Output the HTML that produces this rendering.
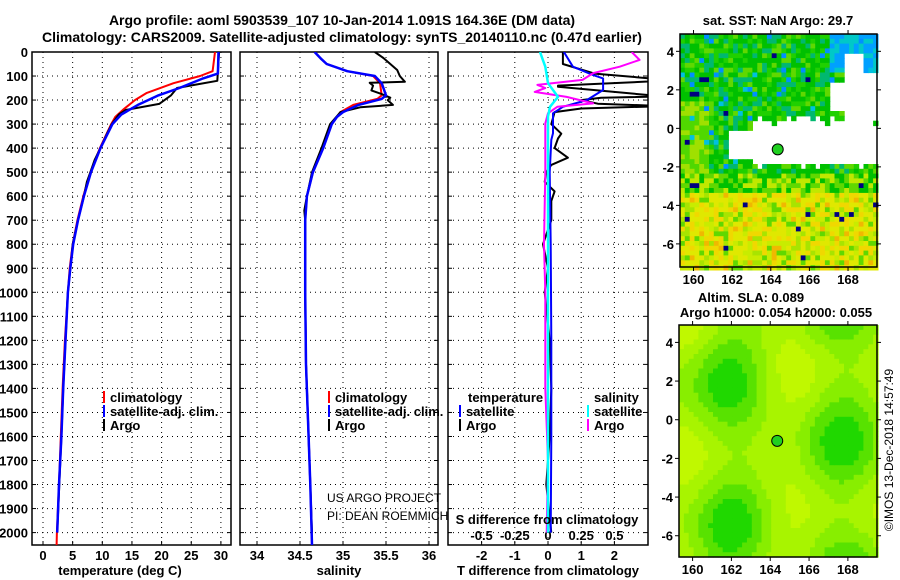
<!DOCTYPE html>
<html><head><meta charset="utf-8"><style>
body{margin:0;background:#fff;}
svg{display:block;font-family:"Liberation Sans",sans-serif;}
.b{font-weight:bold;font-size:13px;}
</style></head><body>
<svg id="s" width="900" height="580" viewBox="0 0 900 580">
<defs>
<clipPath id="c1"><rect x="32" y="52" width="199" height="493"/></clipPath>
<clipPath id="c2"><rect x="240" y="52" width="198" height="493"/></clipPath>
<clipPath id="c3"><rect x="448" y="52" width="200" height="493"/></clipPath>
</defs>
<g class="b">
<text x="342" y="25" text-anchor="middle" font-size="14">Argo profile: aoml 5903539_107 10-Jan-2014 1.091S 164.36E (DM data)</text>
<text x="342" y="42" text-anchor="middle" font-size="14">Climatology: CARS2009. Satellite-adjusted climatology: synTS_20140110.nc (0.47d earlier)</text>
</g>
<g id="root"></g>
<text x="120" y="575" class="b" text-anchor="middle">temperature (deg C)</text>
<text x="339" y="575" class="b" text-anchor="middle">salinity</text>
<text x="548" y="575" class="b" text-anchor="middle">T difference from climatology</text>
<text x="547" y="524" class="b" text-anchor="middle">S difference from climatology</text>
<text x="327" y="502" font-size="12">US ARGO PROJECT</text>
<text x="327" y="520" font-size="12">PI: DEAN ROEMMICH</text>
<text x="778" y="25" class="b" font-size="12" text-anchor="middle">sat. SST: NaN Argo: 29.7</text>
<text x="751" y="302" class="b" font-size="12" text-anchor="middle">Altim. SLA: 0.089</text>
<text x="776" y="317" class="b" font-size="12" text-anchor="middle">Argo h1000: 0.054 h2000: 0.055</text>
<text transform="translate(893,450) rotate(-90)" font-size="12" text-anchor="middle">©IMOS 13-Dec-2018 14:57:49</text>
</svg>
<script>
// ---- data ----
const depthTicks=[0,100,200,300,400,500,600,700,800,900,1000,1100,1200,1300,1400,1500,1600,1700,1800,1900,2000];
const tempTicks=[0,5,10,15,20,25,30];
const salTicks=[34,34.5,35,35.5,36];
const salTickLabels=["34","34.5","35","35.5","36"];
const tdiffTicks=[-2,-1,0,1,2];
const sdiffTicks=[-0.5,-0.25,0,0.25,0.5];
const sdiffTickLabels=["-0.5","-0.25","0","0.25","0.5"];
const climDepth=[0,80,100,130,170,200,240,270,300,400,500,600,700,800,900,1000,1200,1400,1600,1800,2000,2052];
const climTemp=[29.0,28.6,26.5,22,17.5,15.5,13.5,12.2,11.5,9.6,8,6.8,5.8,5.0,4.5,4.2,3.7,3.3,3.0,2.7,2.35,2.3];
const satDepth=[0,90,110,150,180,220,260,300,400,500,600,700,800,900,1000,1200,1400,1600,1800,2000];
const satTemp=[29.6,29.5,27,23,19.5,16,13.2,11.7,9.7,8.1,6.9,5.9,5.1,4.6,4.2,3.8,3.4,3.1,2.7,2.4];
const argoDepth=[0,120,135,150,180,216,241,260,300,340,400,450,500,540,600,700,800,900,1000,1200,1400,1600,1800,2000];
const argoTemp=[29.7,29.4,26,22.6,21.6,19.6,14,12.8,11.6,10.8,9.7,8.7,8.0,7.4,6.9,5.9,5.0,4.6,4.2,3.8,3.4,3.1,2.75,2.4];
const climSal=[34.67,34.75,34.81,35.05,35.35,35.43,35.45,35.4,35.12,34.97,34.93,34.87,34.77,34.65,34.58,34.56,34.56,34.57,34.6,34.62,34.64];
const climSalDepth=[0,30,50,80,100,130,180,195,220,250,270,300,400,500,600,700,1000,1300,1600,1800,2052];
const satSal=[34.67,34.75,34.81,35.05,35.37,35.45,35.5,35.45,35.18,35.0,34.93,34.87,34.77,34.65,34.58,34.56,34.56,34.57,34.6,34.62,34.64];
const argoSalDepth=[0,25,75,100,124,128,140,160,175,190,200,220,230,250,300,400,500,600,660,700,1000,1300,1600,2000];
const argoSal=[35.37,35.47,35.63,35.66,35.72,35.31,35.35,35.33,35.45,35.55,35.52,35.58,35.2,34.97,34.85,34.75,34.64,34.58,34.55,34.56,34.56,34.57,34.6,34.64];
const tdDepth=[0,50,90,115,120,140,145,185,190,200,215,225,235,250,300,340,360,400,440,470,500,540,580,620,700,800,900,1000,1200,1400,1600,1800,2000];
const tdArgo=[0.45,0.45,1.4,3.5,3.5,0.3,0.3,3.5,1.6,1.0,1.5,3.5,1.0,0.2,0.1,0.4,0.3,0.2,0.6,0.1,-0.05,-0.1,0.2,0.1,0.1,-0.15,0.0,-0.1,0.05,0.1,0.05,-0.05,0.1];
const tdSatDepth=[0,61,96,110,158,200,228,255,338,366,500,800,1200,1600,2000];
const tdSat=[0.48,0.75,1.36,1.66,1.66,1.17,0.45,0.15,0.15,0.1,0.05,0.08,0.1,0.1,0.08];
const sdDepth=[0,33,61,88,116,137,150,166,187,214,228,255,297,500,800,1000,1400,1700,2000];
const sdArgo=[0.63,0.69,0.54,0.34,0.26,-0.08,-0.02,-0.1,0.14,0.34,0.07,0.0,-0.02,-0.02,-0.03,-0.02,-0.02,0.0,-0.01];
const sdSatDepth=[0,61,130,187,228,269,600,1000,1500,2000];
const sdSat=[-0.06,-0.02,0,0.075,0.015,0,0,0,0,0];
const argoLon=164.36, argoLat=-1.091;
const lonTicks=[160,162,164,166,168];
const latTicks=[4,2,0,-2,-4,-6];

// ---- scales ----
const NS="http://www.w3.org/2000/svg";
const root=document.getElementById('root');
const yD=d=>52+d*0.2403;
const xT=t=>43+t*5.93;
const xS=s=>257+(s-34)*86;
const xTD=t=>548+t*33.2;
const xSD=s=>548+s*132.8;
function mk(tag,attrs,parent){const e=document.createElementNS(NS,tag);for(const k in attrs)e.setAttribute(k,attrs[k]);(parent||root).appendChild(e);return e;}
function txt(x,y,s,anchor,parent,cls){const e=mk('text',{x:x,y:y,'text-anchor':anchor||'middle','class':cls||'b'},parent);e.textContent=s;return e;}

function panel(x0,x1,clip,xs,ticks,labels,name){
  const g=mk('g',{});
  
  
  depthTicks.forEach(d=>{const l=mk('line',{x1:x0,x2:x1,y1:yD(d),y2:yD(d),stroke:'#000','stroke-width':1,'stroke-dasharray':'1,4'},g);
    
    mk('line',{x1:x0,x2:x0+4,y1:yD(d),y2:yD(d),stroke:'#000'},g);mk('line',{x1:x1-4,x2:x1,y1:yD(d),y2:yD(d),stroke:'#000'},g);});
  ticks.forEach((t,i)=>{const l=mk('line',{x1:xs(t),x2:xs(t),y1:52,y2:545,stroke:'#000','stroke-width':1,'stroke-dasharray':'1,4'},g);
    
    mk('line',{x1:xs(t),x2:xs(t),y1:545,y2:541,stroke:'#000'},g);
    const tl=txt(xs(t),560,labels[i],'middle',g);});
  const r=mk('rect',{x:x0,y:52,width:x1-x0,height:493,fill:'none',stroke:'#000','stroke-width':1.5},g);
  
  return g;
}
function line(xs,vals,depths,color,w,clip,name){
  const pts=vals.map((v,i)=>xs(v).toFixed(1)+','+yD(depths[i]).toFixed(1)).join(' ');
  const p=mk('polyline',{points:pts,fill:'none',stroke:color,'stroke-width':w,'clip-path':'url(#'+clip+')','stroke-linejoin':'round'});
  
  
}
depthTicks.forEach(d=>{const t=txt(28,yD(d)+5,String(d),'end');});

panel(32,231,'c1',xT,tempTicks,tempTicks.map(String),'temperature-panel');
line(xT,climTemp,climDepth,'#f00',2,'c1','temp-climatology-line');
line(xT,argoTemp,argoDepth,'#000',2,'c1','temp-argo-line');
line(xT,satTemp,satDepth,'#00f',2.5,'c1','temp-satellite-line');

panel(240,438,'c2',xS,salTicks,salTickLabels,'salinity-panel');
line(xS,climSal,climSalDepth,'#f00',2,'c2','sal-climatology-line');
line(xS,argoSal,argoSalDepth,'#000',2,'c2','sal-argo-line');
line(xS,satSal,climSalDepth,'#00f',2.5,'c2','sal-satellite-line');

panel(448,648,'c3',xTD,tdiffTicks,tdiffTicks.map(String),'difference-panel');
sdiffTicks.forEach((s,i)=>{const t=txt(xSD(s),540,sdiffTickLabels[i],'middle');});
line(xTD,tdArgo,tdDepth,'#000',2,'c3','tdiff-argo-line');
line(xTD,tdSat,tdSatDepth,'#00f',2,'c3','tdiff-satellite-line');
line(xSD,sdArgo,sdDepth,'#f0f',2,'c3','sdiff-argo-line');
line(xSD,sdSat,sdSatDepth,'#0ff',2.5,'c3','sdiff-satellite-line');

function leg(x,y,color,label,name){
  const g=mk('g',{});
  if(color)mk('rect',{x:x,y:y-11,width:2,height:12,fill:color},g);
  txt(x+7,y,label,'start',g);
}
leg(103,402,'#f00','climatology','legend-climatology');
leg(103,416,'#00f','satellite-adj. clim.','legend-satellite-adj');
leg(103,430,'#000','Argo','legend-argo');
leg(328,402,'#f00','climatology','legend-sal-climatology');
leg(328,416,'#00f','satellite-adj. clim.','legend-sal-satellite-adj');
leg(328,430,'#000','Argo','legend-sal-argo');
leg(461,402,null,'temperature','legend-temperature-header');
leg(459,416,'#00f','satellite','legend-tdiff-satellite');
leg(459,430,'#000','Argo','legend-tdiff-argo');
leg(587,402,null,'salinity','legend-salinity-header');
leg(587,416,'#0ff','satellite','legend-sdiff-satellite');
leg(587,430,'#f0f','Argo','legend-sdiff-argo');

// ---- maps ----
function hash(i,j,k){let h=(i*374761393+j*668265263+k*982451653)|0;h=(h^(h>>>13))*1274126177|0;return ((h^(h>>>16))>>>0)/4294967296;}
function map(x0,y0,w,h,lonMin,lonMax,latMax,latMin,colorFn,name,labelY){
  const g=mk('g',{});
  const lx=lon=>x0+(lon-lonMin)/(lonMax-lonMin)*w;
  const ly=lat=>y0+(latMax-lat)/(latMax-latMin)*h;
  const step=0.25;
  for(let lon=lonMin;lon<lonMax;lon+=step){for(let lat=latMax;lat>latMin;lat-=step){
    const c=colorFn(lon,lat);if(!c)continue;
    mk('rect',{x:lx(lon).toFixed(1),y:ly(lat).toFixed(1),width:(step/(lonMax-lonMin)*w+0.6).toFixed(1),height:(step/(latMax-latMin)*h+0.6).toFixed(1),fill:c},g);}}
  mk('rect',{x:x0,y:y0,width:w,height:h,fill:'none',stroke:'#000','stroke-width':1.5},g);
  lonTicks.forEach(l=>{mk('line',{x1:lx(l),x2:lx(l),y1:y0,y2:y0-4,stroke:'#000'},g);mk('line',{x1:lx(l),x2:lx(l),y1:y0+h,y2:y0+h+4,stroke:'#000'},g);
    const t=txt(lx(l),labelY,String(l),'middle',g);});
  latTicks.forEach(l=>{mk('line',{x1:x0,x2:x0-4,y1:ly(l),y2:ly(l),stroke:'#000'},g);mk('line',{x1:x0+w,x2:x0+w+4,y1:ly(l),y2:ly(l),stroke:'#000'},g);
    const t=txt(x0-6,ly(l)+5,String(l),'end',g);});
  const c=mk('circle',{cx:lx(argoLon),cy:ly(argoLat),r:5.5,fill:'#20d020',stroke:'#000','stroke-width':1},g);
  
}
function sst(lon,lat){
  const i=Math.round(lon*4),j=Math.round(lat*4);const r=hash(i,j,1);
  const edge=hash(i,0,7)*0.6;
  if(lat<0.9-edge&&lat>-1.9+edge*0.5&&lon>162.9)return null;
  if(lat<0.1&&lat>-1.4&&lon>161.7)return null;
  if(lon>167.6&&lat>0.5&&lat<4.0&&!(lat>3&&lon>168.6))return null;
  if(lon>167.0&&lat>1.0&&lat<2.6)return null;
  if(lat>-2.2){
    if(r<0.03)return '#0090ff';if(r<0.045)return '#00c0e0';if(r<0.055)return '#000080';
    if(lon>167&&lat>3)return r<0.5?'#00c8c8':'#00a0ff';
    if(lon<160.6&&lat<1.5)return r<0.5?'#a0e000':'#50d800';
    return r<0.45?'#00c000':r<0.68?'#20d000':r<0.85?'#00b870':'#60d800';
  }
  if(r<0.02)return '#000080';
  if(lat>-3.2)return r<0.4?'#00c000':r<0.7?'#60d800':'#c0e800';
  return r<0.3?'#e0e800':r<0.5?'#f0d800':r<0.65?'#c8ec00':r<0.75?'#60d800':r<0.82?'#f0b800':'#a8e400';
}
function sla(lon,lat){
  const v=0.5*Math.sin((lon-160.5)*1.1)+0.35*Math.cos((lat-1)*0.9+(lon-163)*0.4)+0.3*Math.sin((lat+4)*0.8-(lon-166)*0.6);
  const shades=['#20d800','#58e200','#88ee00','#a8f400','#c0f800'];
  let k=Math.floor((v+1.0)/2.2*5);k=Math.max(0,Math.min(4,k));return shades[4-k];
}
map(680,34,197,233,159.3,169.5,4.9,-7.2,sst,'sst-map',284);
map(679,325,198,232,159.3,169.5,4.9,-7.1,sla,'sla-map',574);
</script>
</body></html>
